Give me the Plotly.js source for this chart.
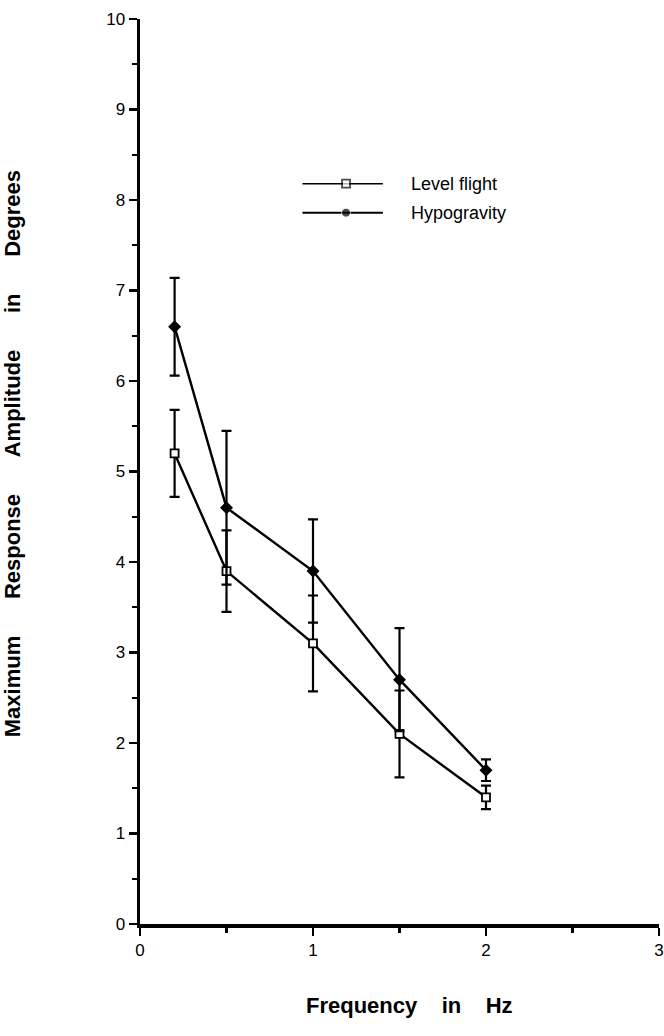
<!DOCTYPE html>
<html>
<head>
<meta charset="utf-8">
<script src="https://cdn.plot.ly/plotly-3.0.1.min.js"></script>
<style>html,body{margin:0;padding:0;background:#fff;}#chart{width:664px;height:1036px;}</style>
</head>
<body>
<div id="chart"></div>
<script>
// ---- data ----
const frequencyHz = [0.2, 0.5, 1.0, 1.5, 2.0];
const levelFlight = [5.2, 3.9, 3.1, 2.1, 1.4];
const levelFlightErr = [0.48, 0.45, 0.53, 0.48, 0.13];
const hypogravity = [6.6, 4.6, 3.9, 2.7, 1.7];
const hypogravityErr = [0.54, 0.85, 0.57, 0.57, 0.12];
const seriesNames = ["Level flight", "Hypogravity"];
const xTicks = [0, 1, 2, 3];
const yTicks = [0, 1, 2, 3, 4, 5, 6, 7, 8, 9, 10];

const FONT = "Liberation Sans, Arial, Helvetica, sans-serif";
const sp = n => "\u00a0".repeat(n);

const errStyle = {type: "data", visible: true, color: "#000", thickness: 2.2, width: 5};

const traces = [
  {
    x: frequencyHz, y: levelFlight, name: seriesNames[0], type: "scatter", mode: "lines+markers",
    line: {color: "#000", width: 2.4},
    marker: {symbol: "square", size: 8, color: "#fff", line: {color: "#000", width: 1.8}},
    error_y: Object.assign({array: levelFlightErr}, errStyle),
    showlegend: false
  },
  {
    x: frequencyHz, y: hypogravity, name: seriesNames[1], type: "scatter", mode: "lines+markers",
    line: {color: "#000", width: 2.4},
    marker: {symbol: "diamond", size: 10, color: "#000"},
    error_y: Object.assign({array: hypogravityErr}, errStyle),
    showlegend: false
  }
];

// legend keys drawn on an overlay axis pair spanning the plot area (0..1)
const key = {x0: 0.313, xm: 0.397, x1: 0.468, ys: [0.818, 0.786], tx: 0.518};
traces.push({
  x: [key.x0, key.xm, key.x1], y: [key.ys[0], key.ys[0], key.ys[0]], xaxis: "x2", yaxis: "y2",
  type: "scatter", mode: "lines+markers", hoverinfo: "skip", showlegend: false,
  line: {color: "#000", width: 1.6},
  marker: {symbol: "square", size: [0, 8, 0], color: "#fff", line: {color: "#000", width: 1.8}}
});
traces.push({
  x: [key.x0, key.xm, key.x1], y: [key.ys[1], key.ys[1], key.ys[1]], xaxis: "x2", yaxis: "y2",
  type: "scatter", mode: "lines+markers", hoverinfo: "skip", showlegend: false,
  line: {color: "#000", width: 2},
  marker: {symbol: "circle", size: [0, 9, 0], color: "#000"}
});

const axisCommon = {
  showline: true, linecolor: "#000", linewidth: 3.5, showgrid: false, zeroline: false,
  ticks: "outside", ticklen: 8, tickwidth: 2.5, tickcolor: "#000",
  tickfont: {family: FONT, size: 17, color: "#000"}, automargin: false
};

const layout = {
  width: 664, height: 1036,
  margin: {l: 140, r: 5, t: 19, b: 112},
  paper_bgcolor: "#fff", plot_bgcolor: "#fff",
  showlegend: false,
  xaxis: Object.assign({}, axisCommon, {
    range: [0, 3], tickvals: xTicks, ticktext: xTicks.map(String),
    minor: {tickvals: [0.5, 1.5, 2.5], ticks: "outside", ticklen: 5, tickwidth: 2.2, tickcolor: "#000"}
  }),
  yaxis: Object.assign({}, axisCommon, {
    range: [0, 10], tickvals: yTicks, ticktext: yTicks.map(String),
    minor: {dtick: 0.5, ticks: "outside", ticklen: 5, tickwidth: 2.2, tickcolor: "#000"}
  }),
  xaxis2: {overlaying: "x", range: [0, 1], visible: false, fixedrange: true},
  yaxis2: {overlaying: "y", range: [0, 1], visible: false, fixedrange: true},
  annotations: [
    {xref: "paper", yref: "paper", x: key.tx, y: key.ys[0], xanchor: "left", yanchor: "middle",
     text: seriesNames[0], showarrow: false, font: {family: FONT, size: 18, color: "#000"}},
    {xref: "paper", yref: "paper", x: key.tx, y: key.ys[1], xanchor: "left", yanchor: "middle",
     text: seriesNames[1], showarrow: false, font: {family: FONT, size: 18, color: "#000"}},
    {xref: "paper", yref: "paper", x: -0.245, y: 0.52, xanchor: "center", yanchor: "middle",
     textangle: -90, showarrow: false,
     text: "Maximum" + sp(6) + "Response" + sp(6) + "Amplitude" + sp(6) + "in" + sp(6) + "Degrees",
     font: {family: FONT, size: 22, color: "#000", weight: "bold"}},
    {xref: "paper", yref: "paper", x: 0.52, y: -0.09, xanchor: "center", yanchor: "middle",
     showarrow: false,
     text: "Frequency" + sp(4) + "in" + sp(4) + "Hz",
     font: {family: FONT, size: 22, color: "#000", weight: "bold"}}
  ]
};

Plotly.newPlot("chart", traces, layout, {displayModeBar: false, staticPlot: true});
</script>
</body>
</html>
